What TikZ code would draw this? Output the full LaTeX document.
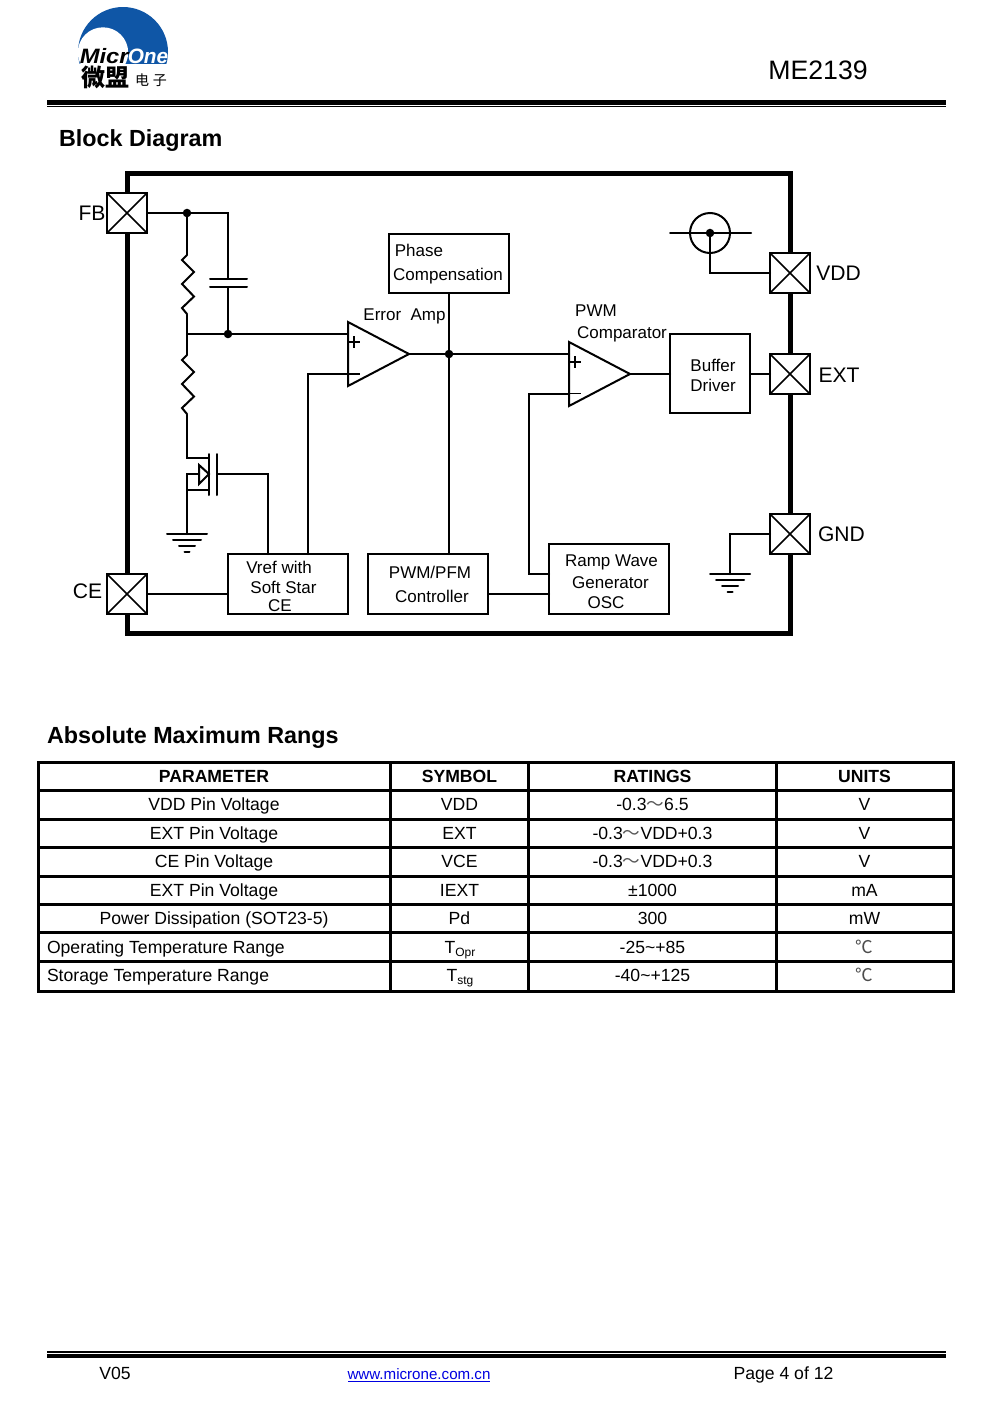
\documentclass[tikz,border=0pt]{standalone}
\usepackage{fontspec}
\setmainfont{Liberation Sans}
\newfontfamily\cjkf{Noto Sans CJK SC}
\usetikzlibrary{calc}
\definecolor{logoblue}{HTML}{0F56A6}
\definecolor{linkblue}{HTML}{0000E0}
\tikzset{
  x=0.75pt,y=-0.75pt,
  wire/.style={line width=1.5pt,line cap=round,line join=miter},
  thin wire/.style={line width=0.8pt},
  blockbox/.style={draw,line width=1.5pt,fill=white,inner sep=0pt,outer sep=0pt},
  pinbox/.style={draw,line width=1.5pt,fill=white,inner sep=0pt,outer sep=0pt,minimum width=30pt,minimum height=30pt,
    path picture={\draw[line width=1.2pt] (path picture bounding box.north west)--(path picture bounding box.south east)
      (path picture bounding box.north east)--(path picture bounding box.south west);}},
  junction/.style={circle,fill=black,inner sep=0pt,minimum size=6.4pt},
  txtbase/.style={inner sep=0pt,outer sep=0pt,text height=0.72em,text depth=0.2em},
  dtxt/.style={txtbase,yshift=-2.25pt,font=\fontsize{12.75}{14}\selectfont},
  pintxt/.style={txtbase,yshift=-3pt,font=\fontsize{15.8}{18}\selectfont},
  htxt/.style={txtbase,yshift=-3.75pt,font=\fontsize{17.5}{20}\selectfont\bfseries},
  ttxt/.style={txtbase,yshift=-1.5pt,font=\fontsize{13.2}{15}\selectfont},
  thd/.style={txtbase,yshift=-2.25pt,font=\fontsize{13.2}{15}\selectfont\bfseries},
  ftxt/.style={txtbase,yshift=-2.25pt,font=\fontsize{13.2}{15}\selectfont},
  cel/.style={txtbase,yshift=-1.5pt,font=\fontsize{13.2}{15}\selectfont\cjkf,text=black!70},
}
\newcommand{\subT}[1]{T\raisebox{-2.6pt}{\fontsize{9}{9}\selectfont #1}}
\newcommand{\ftilde}{{\cjkf\fontsize{13.2}{15}\selectfont\color{black!65}～}}
\newcommand{\gndmark}[1]{%
  \draw[wire] ($(#1)+(-20,0)$) -- ($(#1)+(20,0)$)
     ($(#1)+(-14,6)$) -- ($(#1)+(14,6)$)
     ($(#1)+(-8,12)$) -- ($(#1)+(8,12)$)
     ($(#1)+(-2.5,18)$) -- ($(#1)+(2.5,18)$);}
\newcommand{\zigzag}[1]{%
  \draw[wire] (#1) -- ++(-5,5) -- ++(12,12) -- ++(-12,12) -- ++(12,12.5) -- ++(-12,11.5) -- ++(5,6);}
\begin{document}
\begin{tikzpicture}
\useasboundingbox (0,0) rectangle (991,1403);
\fill[white] (0,0) rectangle (991,1403);

% ---- logo
\begin{scope}
  \clip (70,0) rectangle (175,63.5);
  \fill[logoblue] (123,52) circle[radius=33.75pt];
  \fill[white] (103,52.5) circle[radius=18.9pt];
\end{scope}
\node[inner sep=0pt,anchor=base west,font=\fontsize{15.6}{16}\selectfont\bfseries\itshape] (logoA) at (79.5,63) {\scalebox{1.14}[1]{Micr}};
\node[inner sep=0pt,anchor=base west,font=\fontsize{15.6}{16}\selectfont\bfseries\itshape,text=white] (logoB) at (127.5,63) {One};
\node[inner sep=0pt,font=\fontsize{18}{18}\selectfont\cjkf\bfseries] (logoC) at (105.5,77) {微盟};
\node[inner sep=0pt,font=\fontsize{10.5}{11}\selectfont\cjkf] (logoD) at (151,80) {电\hspace{3pt}子};

% ---- header
\node[txtbase,yshift=-4.5pt,font=\fontsize{20}{22}\selectfont] (title) at (818,70) {ME2139};
\fill (47,100) rectangle (946,104.8);
\fill (47,106) rectangle (946,107.3);
\node[htxt,anchor=west] (h1) at (59,138) {Block Diagram};
\node[htxt,anchor=west] (h2) at (47,735) {Absolute Maximum Rangs};

% ---- package outline
\draw[line width=3.75pt] (127,173.5) rectangle (790,633.5);

% ---- pins
\node[pinbox] (fb) at (127,213) {};
\node[pinbox] (ce) at (127,594) {};
\node[pinbox] (vdd) at (790,273) {};
\node[pinbox] (ext) at (790,374) {};
\node[pinbox] (gnd) at (790,534) {};
\node[pintxt] (lfb) at (92,213) {FB};
\node[pintxt] (lce) at (87.5,591) {CE};
\node[pintxt] (lvdd) at (838.5,273) {VDD};
\node[pintxt] (lext) at (839,375) {EXT};
\node[pintxt] (lgnd) at (841.5,534) {GND};

% ---- blocks
\node[blockbox,minimum width=90pt,minimum height=44.5pt] (phase) at (448.5,263.5) {};
\node[blockbox,minimum width=90pt,minimum height=45pt] (vref) at (287.5,584) {};
\node[blockbox,minimum width=90pt,minimum height=45pt] (pfm) at (428,584) {};
\node[blockbox,minimum width=90pt,minimum height=52.5pt] (ramp) at (609,579) {};
\node[blockbox,minimum width=60pt,minimum height=59.5pt] (buf) at (710,373.5) {};
\node[dtxt] (t1) at (419,250) {Phase};
\node[dtxt] (t2) at (448,274) {Compensation};
\node[dtxt] (t3) at (404.5,314) {Error\ \ Amp};
\node[dtxt] (t4) at (596,310) {PWM};
\node[dtxt] (t5) at (622,332) {Comparator};
\node[dtxt] (t6) at (713,365) {Buffer};
\node[dtxt] (t7) at (713,385) {Driver};
\node[dtxt] (t8) at (279,567) {Vref with};
\node[dtxt] (t9) at (283.5,587) {Soft Star};
\node[dtxt] (t10) at (280,605) {CE};
\node[dtxt] (t11) at (430,572) {PWM/PFM};
\node[dtxt] (t12) at (432,596) {Controller};
\node[dtxt] (t13) at (611.5,560) {Ramp Wave};
\node[dtxt] (t14) at (610.5,582) {Generator};
\node[dtxt] (t15) at (606,602) {OSC};

% ---- amplifiers
\coordinate (eaT) at (348,322); \coordinate (eaB) at (348,386); \coordinate (eaO) at (409,354);
\coordinate (eaP) at (348,334); \coordinate (eaN) at (348,374);
\draw[wire,line join=miter] (eaT) -- (eaO) -- (eaB) -- cycle;
\draw[thin wire] (348,342) -- (360,342) (354,336) -- (354,348) (348,374) -- (360,374);
\coordinate (cpT) at (569,342); \coordinate (cpB) at (569,406); \coordinate (cpO) at (630,374);
\coordinate (cpP) at (569,354); \coordinate (cpN) at (569,394);
\draw[wire,line join=miter] (cpT) -- (cpO) -- (cpB) -- cycle;
\draw[thin wire] (569,362) -- (581,362) (575,356) -- (575,368) (569,393.5) -- (581,393.5);

% ---- junctions
\node[junction] (jfb) at (187,213) {};
\node[junction] (jfb2) at (228,334) {};
\node[junction] (jout) at (449,354) {};
\node[junction] (jv) at (710,233) {};
\coordinate (jtap) at (187,334);

% ---- feedback network
\draw[wire] (fb.east) -- (jfb.center) -- (228,213) -- (228,279) coordinate (capA);
\draw[wire] (228,287) coordinate (capB) -- (jfb2.center);
\draw[wire] ($(capA)+(-18,0)$) -- ($(capA)+(19,0)$);
\draw[wire] ($(capB)+(-18,0)$) -- ($(capB)+(19,0)$);
\coordinate (r1) at (187,255); \coordinate (r1e) at (187,314.5);
\coordinate (r2) at (187,355); \coordinate (r2e) at (187,414.5);
\draw[wire] (jfb.center) -- (r1);
\zigzag{r1}
\draw[wire] (r1e) -- (r2);
\zigzag{r2}
\draw[wire] (jtap) -- (jfb2.center) -- (eaP);

% ---- NMOS switch
\coordinate (mD) at (209,458); \coordinate (mS) at (209,490); \coordinate (mB) at (199,474);
\coordinate (gP) at (217,474);
\draw[wire] (r2e) |- (mD);
\draw[wire] (209,454) -- (209,495);
\draw[wire] (217,454) -- (217,495);
\draw[wire,line join=miter] (199,465) -- (209,474) -- (199,484) -- cycle;
\coordinate (gndA) at (187,534);
\draw[wire] (mB) -- (187,474) -- (gndA);
\draw[wire] (187,490) -- (mS);
\gndmark{gndA}
\draw[wire] (gP) -| ($(vref.north west)+(40.5,0)$);

% ---- signal path
\draw[wire] (ce.east) -- (ce.east -| vref.west);
\draw[wire] ($(vref.north west)+(80.5,0)$) |- (eaN);
\draw[wire] (eaO) -- (cpP);
\draw[wire] (phase.south -| jout) -- (jout.center) -- (pfm.north -| jout);
\draw[wire] (pfm.east |- 0,594) -- (ramp.west |- 0,594);
\draw[wire] (cpN) -- (529,394) -- (529,574) -- (ramp.west |- 0,574);
\draw[wire] (cpO) -- (buf.west |- cpO);
\draw[wire] (buf.east |- ext) -- (ext.west);

% ---- VDD and GND symbols
\draw[wire] (710,233) circle[radius=15pt];
\draw[wire] (670,233) -- (751,233);
\draw[wire] (jv.center) -- (710,273) -- (vdd.west);
\coordinate (gndB) at (730,574);
\draw[wire] (gnd.west) -- (730,534) -- (gndB);
\gndmark{gndB}

% ---- table
\foreach \yy in {790,819,847.5,876,904,932.5,961}
  \draw[line width=2.25pt] (38,\yy) -- (953,\yy);
\foreach \xx in {390,528,776}
  \draw[line width=2.25pt] (\xx,762) -- (\xx,991);
\draw[line width=2.25pt] (38,762) rectangle (953,991);

\node[thd] (a0) at (214,776) {PARAMETER};
\node[thd] (b0) at (459.5,776) {SYMBOL};
\node[thd] (c0) at (652.5,776) {RATINGS};
\node[thd] (d0) at (864.5,776) {UNITS};

\node[ttxt] (a1) at (214,805) {VDD Pin Voltage};
\node[ttxt] (a2) at (214,834) {EXT Pin Voltage};
\node[ttxt] (a3) at (214,862) {CE Pin Voltage};
\node[ttxt] (a4) at (214,891) {EXT Pin Voltage};
\node[ttxt] (a5) at (214,919) {Power Dissipation (SOT23-5)};
\node[ttxt,anchor=west] (a6) at (47,948) {Operating Temperature Range};
\node[ttxt,anchor=west] (a7) at (47,976) {Storage Temperature Range};

\node[ttxt] (b1) at (459.5,805) {VDD};
\node[ttxt] (b2) at (459.5,834) {EXT};
\node[ttxt] (b3) at (459.5,862) {VCE};
\node[ttxt] (b4) at (459.5,891) {IEXT};
\node[ttxt] (b5) at (459.5,919) {Pd};
\node[ttxt] (b6) at (460,948) {\subT{Opr}};
\node[ttxt] (b7) at (460,976) {\subT{stg}};

\node[ttxt] (c1) at (652.5,805) {-0.3\ftilde6.5};
\node[ttxt] (c2) at (652.5,834) {-0.3\ftilde VDD+0.3};
\node[ttxt] (c3) at (652.5,862) {-0.3\ftilde VDD+0.3};
\node[ttxt] (c4) at (652.5,891) {±1000};
\node[ttxt] (c5) at (652.5,919) {300};
\node[ttxt] (c6) at (652.5,948) {-25\textasciitilde+85};
\node[ttxt] (c7) at (652.5,976) {-40\textasciitilde+125};

\node[ttxt] (d1) at (864.5,805) {V};
\node[ttxt] (d2) at (864.5,834) {V};
\node[ttxt] (d3) at (864.5,862) {V};
\node[ttxt] (d4) at (864.5,891) {mA};
\node[ttxt] (d5) at (864.5,919) {mW};
\node[cel] (d6) at (864.5,948) {℃};
\node[cel] (d7) at (864.5,976) {℃};

% ---- footer
\fill (47,1351) rectangle (946,1352.5);
\fill (47,1353.5) rectangle (946,1358);
\node[ftxt] (f1) at (115,1373) {V05};
\node[ftxt,yshift=0.75pt,text=linkblue,font=\fontsize{11.35}{14}\selectfont] (f2) at (419,1374) {www.microne.com.cn};
\draw[linkblue,line width=0.75pt] (348,1381) -- (490,1381);
\node[ftxt] (f3) at (783.5,1373) {Page 4 of 12};
\end{tikzpicture}
\end{document}
